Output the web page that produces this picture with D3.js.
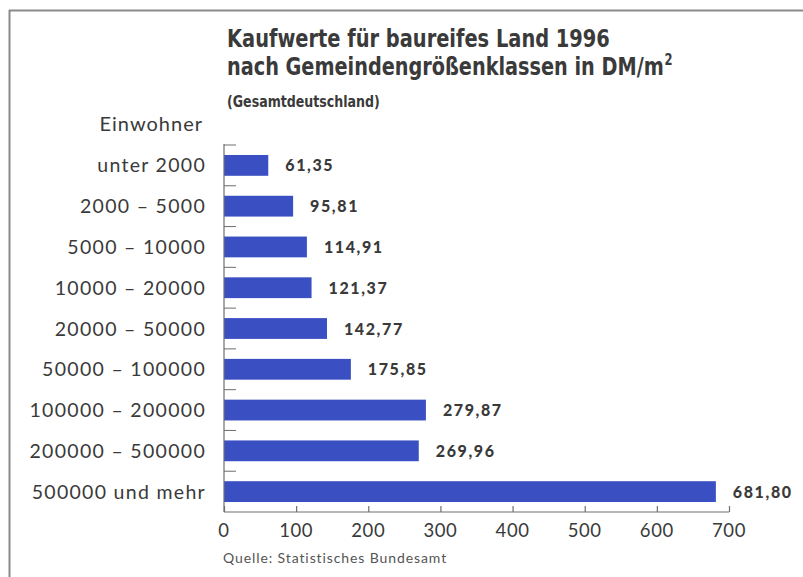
<!DOCTYPE html>
<html>
<head>
<meta charset="utf-8">
<script src="https://cdn.jsdelivr.net/npm/d3@7"></script>
<style>
  html, body { margin: 0; padding: 0; background: #fff; }
  svg { display: block; }
</style>
</head>
<body>
<svg id="chart" width="803" height="577"></svg>
<script>
// Einwohner-Größenklassen und Kaufwerte (DM/m²)
const categories = [
  "unter 2000",
  "2000 – 5000",
  "5000 – 10000",
  "10000 – 20000",
  "20000 – 50000",
  "50000 – 100000",
  "100000 – 200000",
  "200000 – 500000",
  "500000 und mehr"
];
const values = [61.35, 95.81, 114.91, 121.37, 142.77, 175.85, 279.87, 269.96, 681.80];
const xTicks = [0, 100, 200, 300, 400, 500, 600, 700];

const titleLines = [
  "Kaufwerte für baureifes Land 1996",
  "nach Gemeindengrößenklassen in DM/m"
];
const titleExponent = "2";
const subtitle = "(Gesamtdeutschland)";
const axisTitle = "Einwohner";
const source = "Quelle: Statistisches Bundesamt";

const svg = d3.select("#chart");
const textColor = "#3a3a3a";
const barColor = "#3a4fc2";
const regular = "Lato, 'Open Sans', sans-serif";
const condensed = "'DejaVu Sans Condensed', 'DejaVu Sans', sans-serif";

// Rahmen oben und links
svg.append("line").attr("x1", 9).attr("x2", 803).attr("y1", 10.5).attr("y2", 10.5)
  .attr("stroke", "#8a8a8a").attr("stroke-width", 2);
svg.append("line").attr("x1", 9.5).attr("x2", 9.5).attr("y1", 10).attr("y2", 577)
  .attr("stroke", "#8a8a8a").attr("stroke-width", 2);

// Titelzeilen: schmal gesetzt, horizontal auf die Zielbreite gestaucht
const titleX = 227;
function condensedLine(y, size, width, build) {
  const g = svg.append("g");
  const t = g.append("text").attr("x", 0).attr("y", 0)
    .attr("font-family", condensed).attr("font-weight", "bold").attr("font-size", size)
    .attr("fill", textColor);
  build(t);
  const w = t.node().getBBox().width;
  g.attr("transform", `translate(${titleX},${y}) scale(${width / w},1)`);
  return t;
}
condensedLine(47, 25, 383, t => t.text(titleLines[0]));
condensedLine(75, 25, 446, t => {
  t.append("tspan").text(titleLines[1]);
  t.append("tspan").attr("font-size", 15).attr("dx", 1).attr("dy", -10).text(titleExponent);
});
condensedLine(107, 15, 153, t => t.text(subtitle));

svg.append("text").attr("x", 203).attr("y", 131).attr("text-anchor", "end")
  .attr("font-family", regular).attr("font-size", 20).attr("letter-spacing", 1)
  .attr("fill", textColor).text(axisTitle);

// Skalen
const x = d3.scaleLinear().domain([0, 700]).range([224, 729]);
const y = d3.scaleBand().domain(categories).range([145, 512]).padding(0);
const barH = y.bandwidth() * 0.51;
const barOff = (y.bandwidth() - barH) / 2;

// Balken
svg.append("g").selectAll("rect").data(values).join("rect")
  .attr("x", x(0))
  .attr("y", (d, i) => y(categories[i]) + barOff)
  .attr("width", d => x(d) - x(0))
  .attr("height", barH)
  .attr("fill", barColor);

// Wertbeschriftungen
const fmt = d3.formatLocale({ decimal: ",", thousands: ".", grouping: [3], currency: ["", ""] }).format(".2f");
svg.append("g").selectAll("text").data(values).join("text")
  .attr("x", d => x(d) + 17)
  .attr("y", (d, i) => y(categories[i]) + y.bandwidth() / 2)
  .attr("dy", "0.38em")
  .attr("font-family", "Lato, sans-serif").attr("font-weight", 900).attr("font-size", 16)
  .attr("letter-spacing", 1.6)
  .attr("fill", textColor)
  .text(d => fmt(d));

// Kategorienbeschriftungen
svg.append("g").selectAll("text").data(categories).join("text")
  .attr("x", 206)
  .attr("y", d => y(d) + y.bandwidth() / 2)
  .attr("dy", "0.36em")
  .attr("text-anchor", "end")
  .attr("font-family", regular).attr("font-size", 19.5).attr("letter-spacing", 1.3)
  .attr("fill", textColor)
  .text(d => d);

// Y-Achse mit Trennstrichen
const axisColor = "#6e6e6e";
svg.append("line").attr("x1", x(0)).attr("x2", x(0)).attr("y1", y.range()[0] - 1).attr("y2", y.range()[1])
  .attr("stroke", axisColor).attr("stroke-width", 1.2);
svg.append("g").selectAll("line").data(categories).join("line")
  .attr("x1", x(0)).attr("x2", x(0) + 12)
  .attr("y1", d => y(d)).attr("y2", d => y(d))
  .attr("stroke", axisColor).attr("stroke-width", 1);

// X-Achse
const xAxis = svg.append("g")
  .attr("transform", `translate(0,${y.range()[1]})`)
  .call(d3.axisTop(x).tickValues(xTicks).tickSize(6).tickFormat(""));
xAxis.select(".domain").attr("stroke", axisColor).attr("stroke-width", 1.2)
  .attr("d", `M${x(0)},0H${x(700)}`);
xAxis.selectAll(".tick line").attr("stroke", axisColor).attr("stroke-width", 1.2);

svg.append("g").selectAll("text").data(xTicks).join("text")
  .attr("x", d => x(d))
  .attr("y", 537)
  .attr("text-anchor", "middle")
  .attr("font-family", regular).attr("font-size", 18.5).attr("letter-spacing", 0.6)
  .attr("fill", textColor)
  .text(d => d);

svg.append("text").attr("x", 223).attr("y", 563)
  .attr("font-family", regular).attr("font-size", 14).attr("letter-spacing", 0.9)
  .attr("fill", "#555").text(source);
</script>
</body>
</html>
